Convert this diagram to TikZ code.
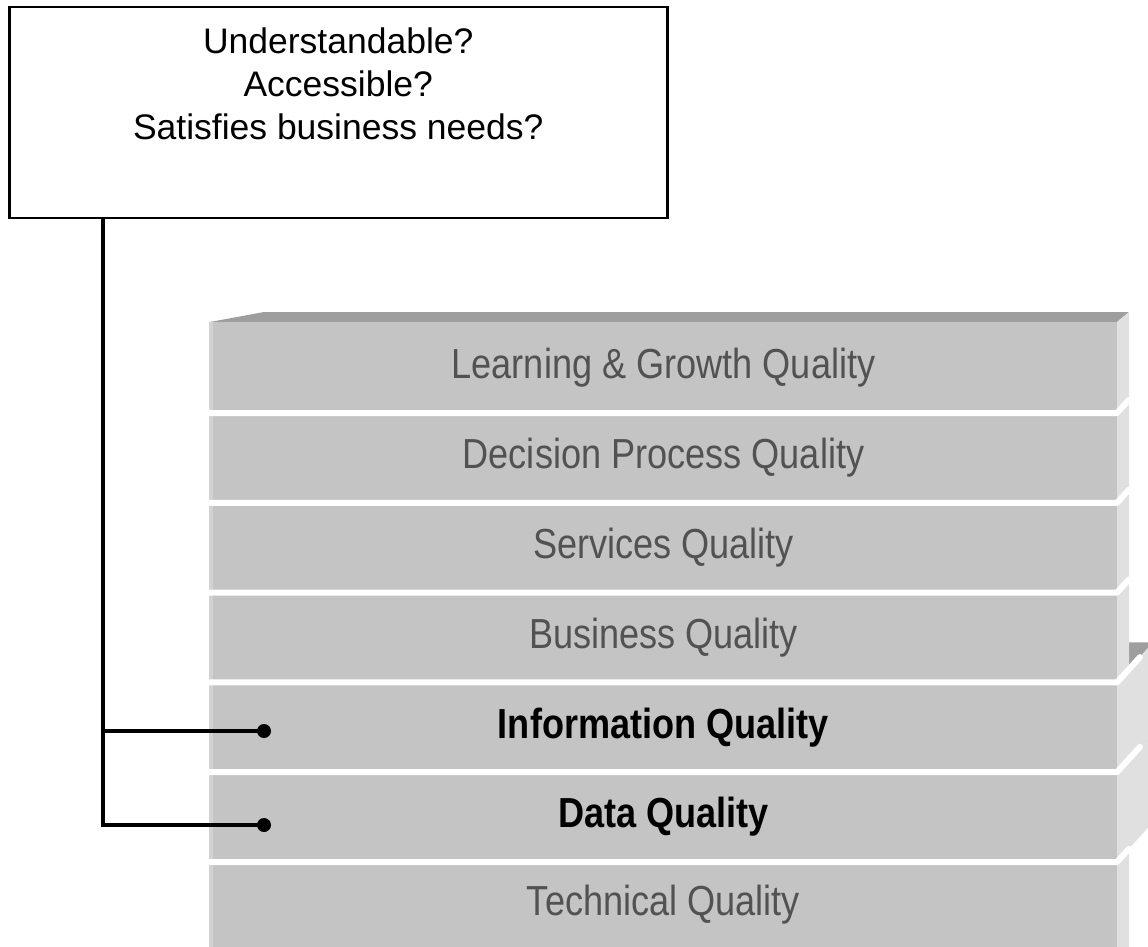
\documentclass[tikz,border=0pt]{standalone}
\usepackage{fontspec}
\setmainfont{Liberation Sans}
\newfontfamily\narrowsans{Liberation Sans}[FakeStretch=0.86]
\usetikzlibrary{positioning,calc}

\definecolor{slabfront}{HTML}{C4C4C4}
\definecolor{slabtop}{HTML}{9E9E9E}
\definecolor{slabside}{HTML}{E0E0E0}
\definecolor{slabedge}{HTML}{D2D2D2}
\definecolor{labelgray}{HTML}{525252}

\tikzset{
  qbox/.style={draw, line width=2.5pt, align=center, minimum width=658pt, inner xsep=16pt, inner ysep=21pt, font=\fontsize{35.5}{43}\selectfont},
  layer/.style={font=\narrowsans\fontsize{42}{48}\selectfont, text=labelgray},
  keylayer/.style={font=\narrowsans\bfseries\fontsize{42}{48}\selectfont, text=black},
  link/.style={line width=4pt},
  gap/.style={white, line width=6pt, line cap=round, line join=round}
}

% one slab of the stack: top y, bottom y, depth dx, depth dy
\newcommand{\slab}[4]{%
  \fill[slabtop] (210,#1) -- ({210+4.5*#3},{#1-#4}) -- ({1117+#3},{#1-#4}) -- (1117,#1) -- cycle;
  \fill[slabfront] (210,#1) rectangle (1117,#2);
  \fill[slabedge] (209,#1) rectangle (212.5,#2);
  \fill[slabside] (1117,#1) -- ({1117+#3},{#1-#4}) -- ({1117+#3},{#2-#4}) -- (1117,#2) -- cycle;
}

\begin{document}
\begin{tikzpicture}[x=1pt, y=-1pt]
  \useasboundingbox (0,0) rectangle (1148,947);
  \clip (0,0) rectangle (1148,947);

  % stack, drawn from the bottom up
  \slab{862}{960}{12}{11}
  \slab{772.2}{862}{36}{40}
  \slab{682.4}{772.2}{36}{40}
  \slab{592.6}{682.4}{12}{11}
  \slab{502.8}{592.6}{12}{11}
  \slab{413}{502.8}{12}{11}
  \slab{322}{413}{12}{10}
  \foreach \e/\s in {413/12, 502.8/12, 592.6/12, 682.4/23, 772.2/23, 862/12}
    \draw[gap] (209,\e) -- (1117,\e) -- ++(\s,{-1.1*\s});

  \node[layer] (learn) at (663.5,367.5) {Learning \& Growth Quality};
  \node[layer] (decide) at (663.5,457.9) {Decision Process Quality};
  \node[layer] (serv) at (663.5,547.7) {Services Quality};
  \node[layer] (biz) at (663.5,637.5) {Business Quality};
  \node[keylayer] (info) at (663.5,727.3) {Information Quality};
  \node[keylayer] (data) at (663.5,817.1) {Data Quality};
  \node[layer] (tech) at (663.5,904.5) {Technical Quality};

  % question box and its bracket
  \node[qbox, anchor=north west] (q) at (8,6) {Understandable?\\Accessible?\\Satisfies business needs?\rule[-57pt]{0pt}{0pt}};
  \coordinate (trunk) at ([xshift=95pt]q.south west);
  \coordinate (infodot) at (264,731);
  \coordinate (datadot) at (264,825);
  \draw[link] (trunk) |- (datadot);
  \draw[link] (trunk |- infodot) -- (infodot);
  \fill (infodot) circle (7pt);
  \fill (datadot) circle (7pt);
\end{tikzpicture}
\end{document}
